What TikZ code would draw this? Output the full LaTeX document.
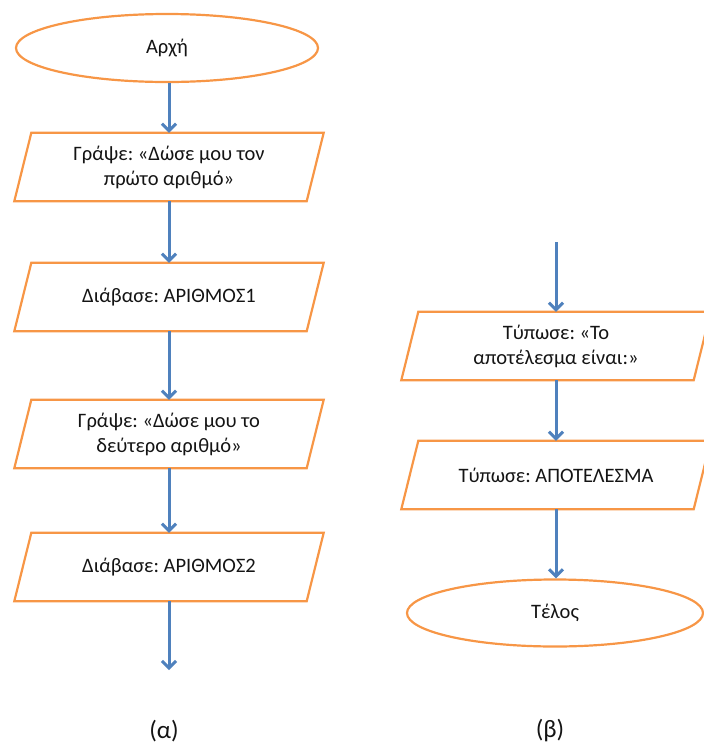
\documentclass[tikz,border=0pt]{standalone}
\usepackage{fontspec}
\setmainfont{Carlito}
\usetikzlibrary{shapes.geometric,arrows.meta}
\definecolor{borange}{HTML}{F79646}
\definecolor{bblue}{HTML}{4F81BD}
\definecolor{txt}{HTML}{141414}
\frenchspacing
\tikzset{
  term/.style={ellipse, draw=borange, line width=2.2pt, minimum width=302, minimum height=68, inner sep=0pt, text=txt, font=\fontsize{20.5}{25}\selectfont},
  io/.style={rectangle, minimum width=292, minimum height=68, inner sep=0pt, align=center, text=txt, font=\fontsize{20.5}{25}\selectfont},
  flow/.style={draw=bblue, line width=3pt, -{Straight Barb[length=7pt,width=14pt,line width=3pt]}},
  sublabel/.style={text=txt, font=\fontsize{25}{28}\selectfont},
}
\begin{document}
\begin{tikzpicture}[x=1pt,y=-1pt]
\useasboundingbox (0,0) rectangle (704,745);
% left column
\node[term] (start) at (167,48) {Αρχή};
\node[io] (p1) at (169,167) {Γράψε: «Δώσε μου τον\\πρώτο αριθμό»};
\node[io] (p2) at (169,297) {Διάβασε: ΑΡΙΘΜΟΣ1};
\node[io] (p3) at (169,434) {Γράψε: «Δώσε μου το\\δεύτερο αριθμό»};
\node[io] (p4) at (169,567) {Διάβασε: ΑΡΙΘΜΟΣ2};
\coordinate (lend) at (169,670);
% right column
\coordinate (rstart) at (557,242);
\node[io] (p5) at (556,346) {Τύπωσε: «Το\\αποτέλεσμα είναι:»};
\node[io] (p6) at (556,475) {Τύπωσε: ΑΠΟΤΕΛΕΣΜΑ};
\node[term, minimum width=296, minimum height=67] (end) at (555,613) {Τέλος};
% parallelogram outlines
\foreach \n in {p1,p2,p3,p4,p5,p6}
  \draw[borange, line width=2.2pt, line join=miter]
    ([xshift=8.5pt]\n.north west) -- ([xshift=8.5pt]\n.north east) --
    ([xshift=-8.5pt]\n.south east) -- ([xshift=-8.5pt]\n.south west) -- cycle;
% connectors
\draw[flow] (start.south -| p1.north) -- (p1.north);
\draw[flow] (p1.south) -- (p2.north);
\draw[flow] (p2.south) -- (p3.north);
\draw[flow] (p3.south) -- (p4.north);
\draw[flow] (p4.south) -- (lend);
\draw[flow] (rstart -| p5.north) -- (p5.north);
\draw[flow] (p5.south) -- (p6.north);
\draw[flow] (p6.south) -- (end.north -| p6.south);
% captions
\node[sublabel] (ca) at (164,731) {(α)};
\node[sublabel] (cb) at (550,731) {(β)};
\end{tikzpicture}
\end{document}
